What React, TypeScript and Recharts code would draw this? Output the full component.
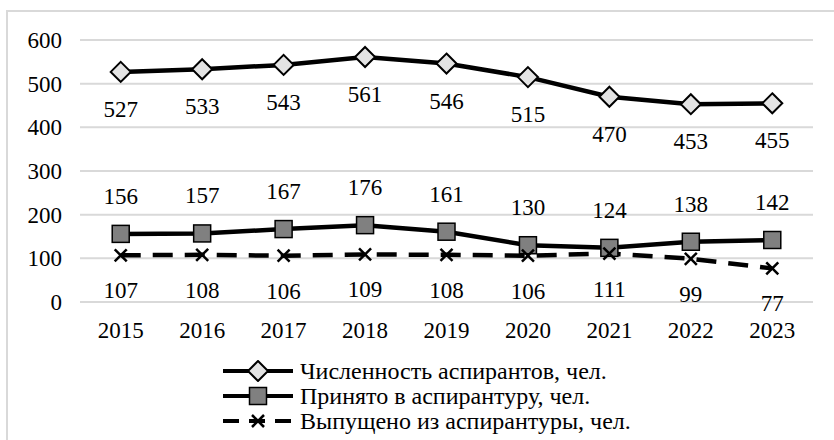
import React from 'react'
import { LineChart, Line, XAxis, YAxis, CartesianGrid, LabelList } from 'recharts'

const years = ['2015', '2016', '2017', '2018', '2019', '2020', '2021', '2022', '2023']
const students = [527, 533, 543, 561, 546, 515, 470, 453, 455]
const admitted = [156, 157, 167, 176, 161, 130, 124, 138, 142]
const graduated = [107, 108, 106, 109, 108, 106, 111, 99, 77]
const yTicks = [0, 100, 200, 300, 400, 500, 600]

const seriesNames = [
  'Численность аспирантов, чел.',
  'Принято в аспирантуру, чел.',
  'Выпущено из аспирантуры, чел.',
]

const FONT = 'Liberation Serif, Tinos, DejaVu Serif, serif'
const FS = 23
const DASH = '20 12'

const data = years.map((year, i) => ({
  year,
  students: students[i],
  admitted: admitted[i],
  graduated: graduated[i],
}))

const Diamond = ({ cx, cy }: any) => (
  <path
    d={`M${cx},${cy - 10} L${cx + 10},${cy} L${cx},${cy + 10} L${cx - 10},${cy} Z`}
    fill="#e3e3e3"
    stroke="#000"
    strokeWidth={2}
  />
)

const Square = ({ cx, cy }: any) => (
  <rect x={cx - 8.5} y={cy - 8.5} width={17} height={17} fill="#808080" stroke="#000" strokeWidth={1.5} />
)

const Cross = ({ cx, cy }: any) => (
  <g stroke="#000" strokeWidth={2.5}>
    <line x1={cx - 6} y1={cy - 6} x2={cx + 6} y2={cy + 6} />
    <line x1={cx - 6} y1={cy + 6} x2={cx + 6} y2={cy - 6} />
  </g>
)

// value label placed at a fixed offset from the point
const labelAt = (dy: number) => (props: any) => {
  const { x, y, value } = props
  return (
    <text x={x} y={y + dy + 8} textAnchor="middle" style={{ fontFamily: FONT, fontSize: FS }} fill="#000">
      {value}
    </text>
  )
}

const XTick = ({ x, y, payload }: any) => (
  <text x={x} y={y + 36} textAnchor="middle" style={{ fontFamily: FONT, fontSize: FS }} fill="#000">
    {payload.value}
  </text>
)

const YTick = ({ x, y, payload }: any) => (
  <text x={x - 18} y={y + 8} textAnchor="end" style={{ fontFamily: FONT, fontSize: FS }} fill="#000">
    {payload.value}
  </text>
)

function LegendIcon({ kind }: { kind: number }) {
  return (
    <svg width={72} height={22} style={{ position: 'absolute', left: 222, top: -11 }}>
      {kind === 2 ? (
        <line x1={1} y1={11} x2={71} y2={11} stroke="#000" strokeWidth={4} strokeDasharray="16 10" />
      ) : (
        <line x1={1} y1={11} x2={71} y2={11} stroke="#000" strokeWidth={4} />
      )}
      {kind === 0 && <Diamond cx={36} cy={11} />}
      {kind === 1 && <Square cx={36} cy={11} />}
      {kind === 2 && <Cross cx={36} cy={11} />}
    </svg>
  )
}

export default function App() {
  return (
    <div style={{ position: 'absolute', left: 0, top: 0, width: 834, height: 440, overflow: 'hidden', background: '#fff' }}>
      <div
        style={{
          position: 'absolute',
          left: 6,
          top: 10,
          width: 900,
          height: 500,
          borderLeft: '2px solid #d9d9d9',
          borderTop: '2px solid #d9d9d9',
        }}
      />
      <div style={{ position: 'absolute', left: 0, top: 0 }}>
        <LineChart width={834} height={440} data={data} margin={{ top: 40, right: 21, left: 0, bottom: 108 }}>
          <CartesianGrid vertical={false} stroke="#d9d9d9" strokeWidth={2} />
          <XAxis
            dataKey="year"
            scale="band"
            axisLine={false}
            tickLine={false}
            tickSize={0}
            tickMargin={0}
            height={30}
            tick={<XTick />}
            interval={0}
          />
          <YAxis
            domain={[0, 600]}
            ticks={yTicks}
            axisLine={false}
            tickLine={false}
            tickSize={0}
            tickMargin={0}
            width={80}
            tick={<YTick />}
          />
          <Line dataKey="students" stroke="#000" strokeWidth={4.5} dot={<Diamond />} isAnimationActive={false}>
            <LabelList dataKey="students" content={labelAt(37)} />
          </Line>
          <Line dataKey="admitted" stroke="#000" strokeWidth={4.5} dot={<Square />} isAnimationActive={false}>
            <LabelList dataKey="admitted" content={labelAt(-38)} />
          </Line>
          <Line
            dataKey="graduated"
            stroke="#000"
            strokeWidth={4.5}
            strokeDasharray={DASH}
            dot={<Cross />}
            isAnimationActive={false}
          >
            <LabelList dataKey="graduated" content={labelAt(35)} />
          </Line>
        </LineChart>
      </div>
      {seriesNames.map((name, i) => (
        <div key={name} style={{ position: 'absolute', left: 0, top: 371 + i * 25 }}>
          <LegendIcon kind={i} />
          <span
            style={{
              position: 'absolute',
              left: 300,
              top: -14,
              whiteSpace: 'nowrap',
              fontFamily: FONT,
              fontSize: 24,
              lineHeight: '28px',
            }}
          >
            {name}
          </span>
        </div>
      ))}
    </div>
  )
}
